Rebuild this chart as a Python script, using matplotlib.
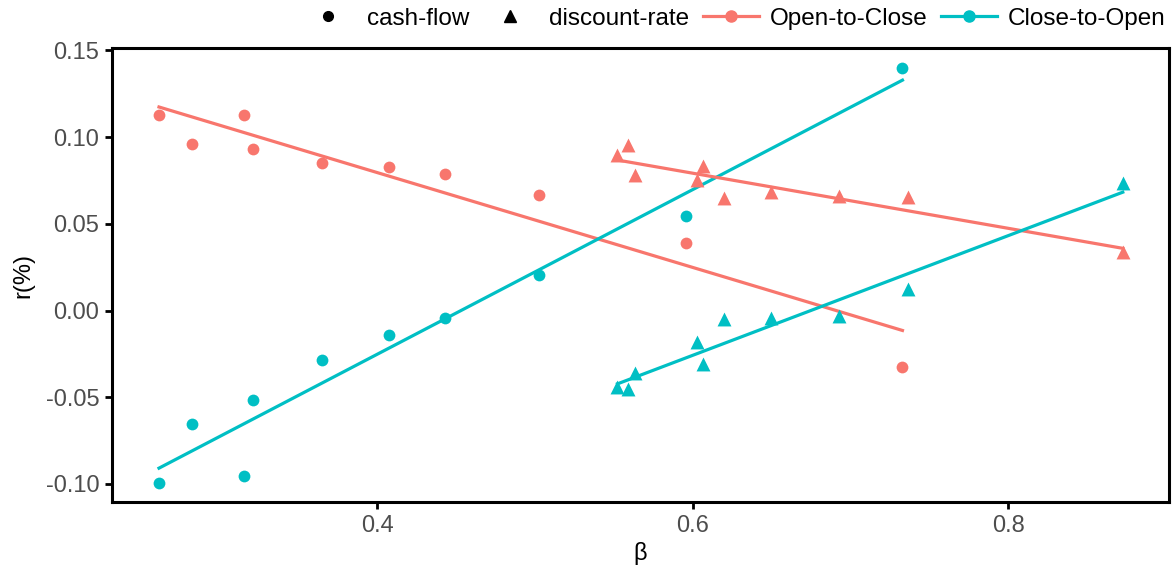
import numpy as np
import matplotlib
matplotlib.use("Agg")
import matplotlib.pyplot as plt
from matplotlib.lines import Line2D

plt.rcParams['font.family'] = ['Liberation Sans', 'DejaVu Sans']

# cash-flow betas (shared by both series)
beta_cf = [0.2616, 0.2825, 0.3153, 0.3210, 0.3652, 0.4076, 0.4430, 0.5024, 0.5959, 0.7330]
# discount-rate betas
beta_dr = [0.5523, 0.5592, 0.5637, 0.6028, 0.6066, 0.6199, 0.6496, 0.6926, 0.7368, 0.8727]

otc_cf = [0.1126, 0.0959, 0.1126, 0.0930, 0.0850, 0.0827, 0.0787, 0.0665, 0.0389, -0.0326]
cto_cf = [-0.0994, -0.0654, -0.0953, -0.0516, -0.0285, -0.0141, -0.0043, 0.0205, 0.0545, 0.1397]
otc_dr = [0.0896, 0.0953, 0.0781, 0.0752, 0.0832, 0.0648, 0.0683, 0.0660, 0.0654, 0.0337]
cto_dr = [-0.0441, -0.0452, -0.0360, -0.0181, -0.0308, -0.0049, -0.0043, -0.0032, 0.0124, 0.0734]

RED = '#F8766D'
CYAN = '#00BFC4'

fig = plt.figure(figsize=(11.73, 5.68), dpi=100)
ax = fig.add_axes([112/1173, 1-502/568, (1169-112)/1173, (502-48)/568])

def plot_group(x, y, color, marker, ms):
    x = np.asarray(x); y = np.asarray(y)
    ax.scatter(x, y, color=color, marker=marker, s=ms, zorder=3, linewidths=0)
    k, b = np.polyfit(x, y, 1)
    xs = np.array([x.min(), x.max()])
    ax.plot(xs, k*xs + b, color=color, lw=2.3, zorder=2)

plot_group(beta_cf, otc_cf, RED, 'o', 72)
plot_group(beta_cf, cto_cf, CYAN, 'o', 72)
plot_group(beta_dr, otc_dr, RED, '^', 100)
plot_group(beta_dr, cto_dr, CYAN, '^', 100)

ax.set_xlim(0.2318, 0.902)
ax.set_ylim(-0.1104, 0.1514)
ax.set_xticks([0.4, 0.6, 0.8])
ax.set_xticklabels(['0.4', '0.6', '0.8'])
ax.set_yticks([-0.10, -0.05, 0.0, 0.05, 0.10, 0.15])
ax.set_yticklabels(['-0.10', '-0.05', '0.00', '0.05', '0.10', '0.15'])
for s in ax.spines.values():
    s.set_linewidth(2.2)
    s.set_color('black')
ax.tick_params(axis='both', colors='black', labelcolor='#4D4D4D', labelsize=17,
               length=5, width=2, direction='out', pad=4)
ax.set_xlabel('β', fontsize=17, labelpad=4)
ax.set_ylabel('r(%)', fontsize=17, labelpad=8)

handles = [
    Line2D([], [], color='black', marker='o', ls='none', ms=7),
    Line2D([], [], color='black', marker='^', ls='none', ms=9),
    Line2D([], [], color=RED, marker='o', lw=2.3, ms=8),
    Line2D([], [], color=CYAN, marker='o', lw=2.3, ms=8),
]
labels = ['cash-flow', 'discount-rate', 'Open-to-Close', 'Close-to-Open']
fig.legend(handles, labels, loc='upper right', bbox_to_anchor=(1.012, 1.025), ncol=4,
           frameon=False, fontsize=17.5, handlelength=2.3, handletextpad=0.45,
           columnspacing=0.55)

fig.savefig('out.png', dpi=100)
